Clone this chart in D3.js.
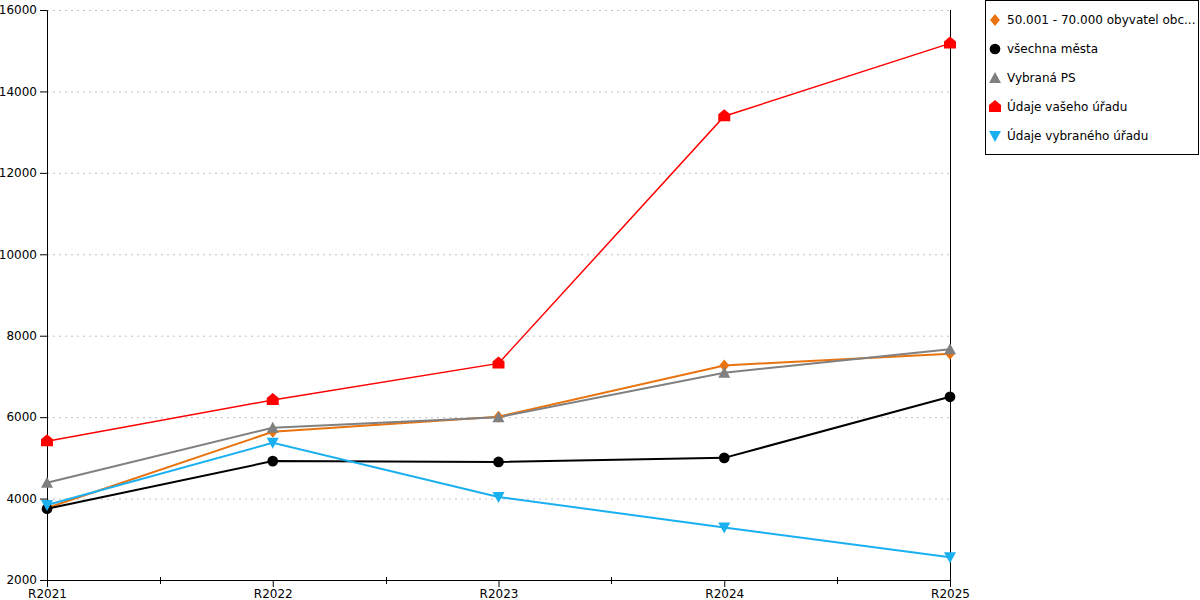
<!DOCTYPE html>
<html>
<head>
<meta charset="utf-8">
<script src="https://cdn.jsdelivr.net/npm/d3@7"></script>
<style>
  body { margin: 0; background: #fff; }
  text { font-family: "DejaVu Sans", Verdana, sans-serif; font-size: 12px; fill: #000; }
</style>
</head>
<body>
<div id="main"></div>
<script>
var years = ["R2021", "R2022", "R2023", "R2024", "R2025"];
var yTicks = [2000, 4000, 6000, 8000, 10000, 12000, 14000, 16000];

var seriesNames = ["50.001 - 70.000 obyvatel obc...", "všechna města", "Vybraná PS", "Údaje vašeho úřadu", "Údaje vybraného úřadu"];
var seriesColors = ["#e8730f", "#000000", "#808080", "#ff0000", "#1ab0f0"];
var seriesShapes = ["diamond", "circle", "triangleUp", "house", "triangleDown"];

var orangeValues = [3770, 5640, 6010, 7270, 7560];
var blackValues = [3750, 4920, 4900, 5000, 6500];
var grayValues = [4390, 5740, 6000, 7090, 7670];
var redValues = [5410, 6420, 7320, 13390, 15180];
var blueValues = [3840, 5370, 4040, 3290, 2560];

var allValues = [orangeValues, blackValues, grayValues, redValues, blueValues];

var ctx = { w: 1200, h: 600, left: 47, right: 950, top: 10, bottom: 580 };

var shapePath = function(shape) {
    if (shape === "diamond") return "M0,-6L5,0L0,6L-5,0Z";
    if (shape === "circle") return d3.symbol().type(d3.symbolCircle).size(90)();
    if (shape === "triangleUp") return "M0,-6L6,5L-6,5Z";
    if (shape === "triangleDown") return "M0,6L6,-5L-6,-5Z";
    // house: square with a pointed roof
    return "M-6,5L-6,-2L0,-7L6,-2L6,5Z";
};

var svg = d3.select("#main").append("svg")
    .attr("width", ctx.w).attr("height", ctx.h);

var x = d3.scalePoint().domain(years).range([ctx.left, ctx.right]);
var y = d3.scaleLinear().domain([2000, 16000]).range([ctx.bottom, ctx.top]);

// grid
svg.append("g").selectAll("line")
  .data(yTicks.slice(1))
  .enter().append("line")
  .attr("x1", ctx.left).attr("x2", ctx.right)
  .attr("y1", function(d){ return y(d) + 0.5; })
  .attr("y2", function(d){ return y(d) + 0.5; })
  .attr("stroke", "#c0c0c0")
  .attr("stroke-dasharray", "2,4");

// y axis
var yAxis = svg.append("g")
  .attr("transform", "translate(" + ctx.left + ",0)")
  .call(d3.axisLeft(y).tickValues(yTicks).tickFormat(d3.format("d")).tickSize(7).tickPadding(3));
yAxis.selectAll("text").style("font-family", "DejaVu Sans, Verdana, sans-serif").style("font-size", "12px");

// x axis
var xAxis = svg.append("g")
  .attr("transform", "translate(0," + ctx.bottom + ")")
  .call(d3.axisBottom(x).tickSize(7).tickPadding(2).tickSizeOuter(0));
xAxis.selectAll("text").style("font-family", "DejaVu Sans, Verdana, sans-serif").style("font-size", "12px");

// minor ticks between categories
var mids = years.slice(1).map(function(d, i){ return (x(d) + x(years[i])) / 2; });
svg.append("g").selectAll("line")
  .data(mids)
  .enter().append("line")
  .attr("x1", function(d){ return Math.round(d) + 0.5; })
  .attr("x2", function(d){ return Math.round(d) + 0.5; })
  .attr("y1", ctx.bottom - 3).attr("y2", ctx.bottom + 4)
  .attr("stroke", "#000");

// right border line
svg.append("line")
  .attr("x1", ctx.right + 0.5).attr("x2", ctx.right + 0.5)
  .attr("y1", ctx.top).attr("y2", ctx.bottom)
  .attr("stroke", "#000");

// series lines
var line = d3.line()
  .x(function(d, i){ return x(years[i]); })
  .y(function(d){ return y(d); });

var plot = svg.append("g");
allValues.forEach(function(vals, s) {
    plot.append("path")
      .attr("d", line(vals))
      .attr("fill", "none")
      .attr("stroke", seriesColors[s])
      .attr("stroke-width", s === 3 ? 1.5 : 2);
});
allValues.forEach(function(vals, s) {
    plot.append("g").selectAll("path")
      .data(vals)
      .enter().append("path")
      .attr("d", shapePath(seriesShapes[s]))
      .attr("fill", seriesColors[s])
      .attr("transform", function(d, i){ return "translate(" + x(years[i]) + "," + y(d) + ")"; });
});

// legend
var legend = svg.append("g");
legend.append("rect")
  .attr("x", 985.5).attr("y", 0.5)
  .attr("width", 213).attr("height", 154)
  .attr("fill", "#fff").attr("stroke", "#000");
var items = legend.selectAll("g.item")
  .data(seriesNames)
  .enter().append("g")
  .attr("class", "item")
  .attr("transform", function(d, i){ return "translate(995," + (20 + i * 29) + ")"; });
items.append("path")
  .attr("d", function(d, i){ return shapePath(seriesShapes[i]); })
  .attr("fill", function(d, i){ return seriesColors[i]; });
items.append("text")
  .attr("x", 12).attr("y", 4)
  .text(function(d){ return d; });
</script>
</body>
</html>
